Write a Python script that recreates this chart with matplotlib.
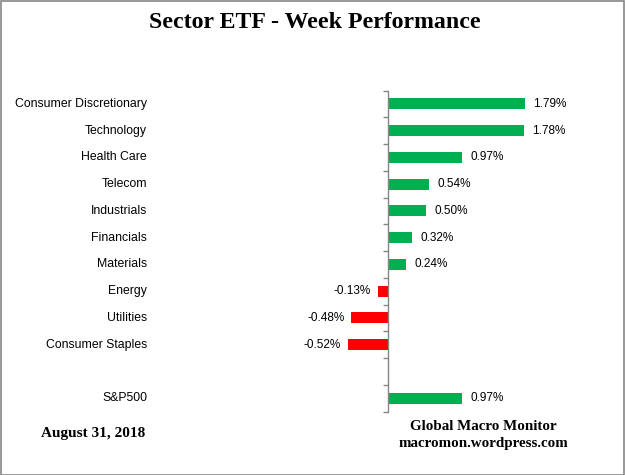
import matplotlib
matplotlib.use("Agg")
import matplotlib.pyplot as plt
import matplotlib.transforms as mtransforms
from matplotlib.patches import Rectangle

categories = ["Consumer Discretionary", "Technology", "Health Care", "Telecom",
              "Industrials", "Financials", "Materials", "Energy", "Utilities",
              "Consumer Staples", "", "S&P500"]
values = [1.79, 1.78, 0.97, 0.54, 0.50, 0.32, 0.24, -0.13, -0.48, -0.52, None, 0.97]
labels = ["1.79%", "1.78%", "0.97%", "0.54%", "0.50%", "0.32%", "0.24%",
          "-0.13%", "-0.48%", "-0.52%", "", "0.97%"]

W, H = 625, 475
fig = plt.figure(figsize=(W / 100, H / 100), dpi=100)
fig.patch.set_facecolor("white")

# axes placement in pixels
ax_l, ax_r, ax_t, ax_b = 150, 600, 90.5, 411.5
ax = fig.add_axes([ax_l / W, (H - ax_b) / H, (ax_r - ax_l) / W, (ax_b - ax_t) / H])
zero_px = 388
scale = 76.5  # px per 1%
ax.set_xlim(-(zero_px - ax_l) / scale, (ax_r - zero_px) / scale)
ax.set_ylim(len(categories) - 0.5, -0.5)

sans = ["Liberation Sans", "DejaVu Sans"]
serif = ["Liberation Serif", "DejaVu Serif"]

for i, (v, lab) in enumerate(zip(values, labels)):
    if v is None:
        continue
    color = "#00B050" if v >= 0 else "#FF0000"
    ax.barh(i, v, height=0.41, color=color, edgecolor="none")
    if v >= 0:
        ax.annotate(lab, (v, i), xytext=(8, 0), textcoords="offset pixels",
                    ha="left", va="center", fontsize=8.5, family=sans, color="#000000")
    else:
        ax.annotate(lab, (v, i), xytext=(-7, 0), textcoords="offset pixels",
                    ha="right", va="center", fontsize=8.5, family=sans, color="#000000")

for s in ["top", "right", "bottom"]:
    ax.spines[s].set_visible(False)
ax.spines["left"].set_position(("data", 0))
ax.spines["left"].set_color("#868686")
ax.spines["left"].set_linewidth(1.0)
ax.set_xticks([])
ax.set_yticks([])
ax.set_yticks([i - 0.5 for i in range(len(categories) + 1)], minor=True)
ax.tick_params(axis="y", which="minor", direction="out", length=3.5,
               color="#868686", width=1.0, labelleft=False)

trans = mtransforms.blended_transform_factory(fig.transFigure, ax.transData)
for i, c in enumerate(categories):
    ax.text(147 / W, i, c, transform=trans, ha="right", va="center",
            fontsize=8.8, family=sans, color="#000000")

fig.text(315 / W, 1 - 23 / H, "Sector ETF - Week Performance", ha="center", va="center",
         fontsize=17.2, fontweight="bold", family=serif)
fig.text(93 / W, 1 - 433 / H, "August 31, 2018", ha="center", va="center",
         fontsize=11, fontweight="bold", family=serif)
fig.text(483 / W, 1 - 426 / H, "Global Macro Monitor", ha="center", va="center",
         fontsize=10.8, fontweight="bold", family=serif)
fig.text(483 / W, 1 - 443 / H, "macromon.wordpress.com", ha="center", va="center",
         fontsize=10.8, fontweight="bold", family=serif)

fig.patches.append(Rectangle((0.5 / W, 0.5 / H), 1 - 1.5 / W, 1 - 1.5 / H,
                             transform=fig.transFigure, fill=False,
                             edgecolor="#868686", linewidth=1.2))

fig.savefig("out.png", dpi=100)
